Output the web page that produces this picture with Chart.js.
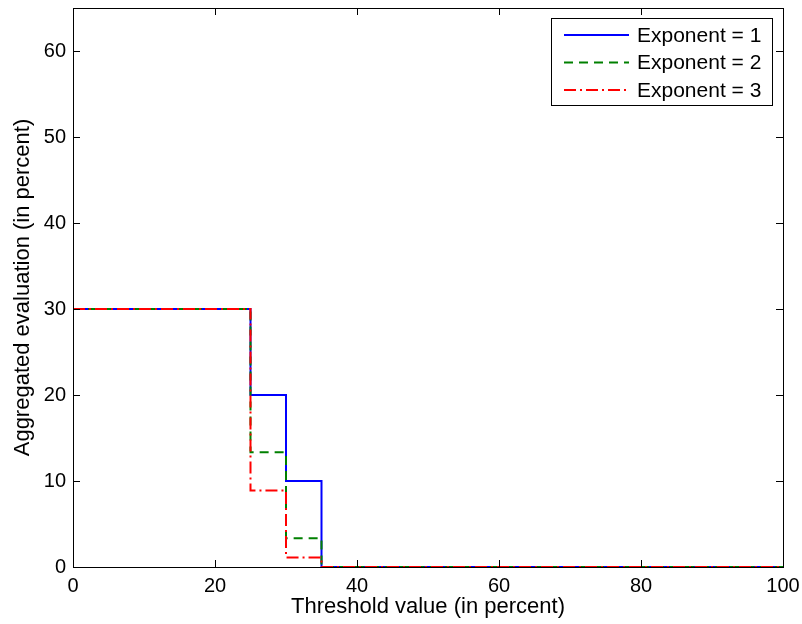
<!DOCTYPE html>
<html>
<head>
<meta charset="utf-8">
<script src="https://cdn.jsdelivr.net/npm/chart.js@4/dist/chart.umd.min.js"></script>
<style>
  html, body { margin: 0; padding: 0; background: #fff; }
  #wrap { width: 802px; height: 624px; }
</style>
</head>
<body>
<div id="wrap"><canvas id="myChart" width="802" height="624"></canvas></div>
<script>
// step function data: value holds from this threshold up to the next one
let thresholds = [0, 25, 30, 35, 100];
let exp1 = [30, 20, 10, 0, 0];
let exp2 = [30, 13.33, 3.33, 0, 0];
let exp3 = [30, 8.89, 1.11, 0, 0];
let seriesNames = ['Exponent = 1', 'Exponent = 2', 'Exponent = 3'];
let xTicks = [0, 20, 40, 60, 80, 100];
let yTicks = [0, 10, 20, 30, 40, 50, 60];

const FONT = '"Liberation Sans", Arial, Helvetica, sans-serif';

function pts(ys) {
  return thresholds.map((x, i) => ({ x: x, y: ys[i] }));
}

// box round the plot, inward ticks on all four sides, and a boxed legend
const matlabBox = {
  id: 'matlabBox',
  afterDatasetsDraw(chart) {
    const ctx = chart.ctx;
    const a = chart.chartArea;
    const xs = chart.scales.x, ys = chart.scales.y;
    ctx.save();
    ctx.strokeStyle = '#000';
    ctx.lineWidth = 1;
    ctx.setLineDash([]);
    ctx.strokeRect(Math.round(a.left) + 0.5, Math.round(a.top) + 0.5,
      Math.round(a.right - a.left), Math.round(a.bottom - a.top));
    const L = 7;
    ctx.beginPath();
    xTicks.forEach(v => {
      const px = Math.round(xs.getPixelForValue(v)) + 0.5;
      ctx.moveTo(px, a.bottom); ctx.lineTo(px, a.bottom - L);
      ctx.moveTo(px, a.top); ctx.lineTo(px, a.top + L);
    });
    yTicks.forEach(v => {
      const py = Math.round(ys.getPixelForValue(v)) + 0.5;
      ctx.moveTo(a.left, py); ctx.lineTo(a.left + L, py);
      ctx.moveTo(a.right, py); ctx.lineTo(a.right - L, py);
    });
    ctx.stroke();

    // legend
    const bx = 551, by = 18, bw = 221, bh = 87;
    ctx.fillStyle = '#fff';
    ctx.fillRect(bx, by, bw, bh);
    ctx.strokeRect(bx + 0.5, by + 0.5, bw, bh);
    ctx.font = '21px ' + FONT;
    ctx.textBaseline = 'middle';
    chart.data.datasets.forEach((ds, i) => {
      const y = by + 17 + i * 27.5;
      ctx.beginPath();
      ctx.strokeStyle = ds.borderColor;
      ctx.lineWidth = 2;
      ctx.setLineDash(ds.borderDash || []);
      ctx.moveTo(564, y); ctx.lineTo(629, y);
      ctx.stroke();
      ctx.setLineDash([]);
      ctx.fillStyle = '#000';
      ctx.fillText(ds.label, 637, y + 1);
    });
    ctx.restore();
  }
};

let myChart1 = document.getElementById('myChart').getContext('2d');

let Chart1 = new Chart(myChart1, {
  type: 'line',
  data: {
    datasets: [
      { label: seriesNames[0], data: pts(exp1), borderColor: '#0000ff', borderWidth: 2, stepped: 'before', order: 3 },
      { label: seriesNames[1], data: pts(exp2), borderColor: '#008000', borderWidth: 2, borderDash: [9, 6], stepped: 'before', order: 2 },
      { label: seriesNames[2], data: pts(exp3), borderColor: '#ff0000', borderWidth: 2, borderDash: [12, 4, 2, 4], stepped: 'before', order: 1 }
    ]
  },
  options: {
    responsive: false,
    animation: false,
    layout: { padding: { left: 0, right: 19, top: 8, bottom: 0 } },
    elements: { point: { radius: 0 }, line: { tension: 0, fill: false } },
    plugins: { legend: { display: false }, tooltip: { enabled: false } },
    scales: {
      x: {
        type: 'linear', min: 0, max: 100,
        afterBuildTicks: s => { s.ticks = xTicks.map(v => ({ value: v })); },
        afterFit: s => { s.height = 57; s.paddingLeft = 0; s.paddingRight = 0; },
        grid: { display: false, drawTicks: false },
        border: { display: false },
        ticks: { color: '#000', font: { size: 20, family: FONT }, padding: 7, maxRotation: 0 },
        title: { display: true, text: 'Threshold value (in percent)', color: '#000', font: { size: 22, family: FONT }, padding: { top: 0, bottom: 4 } }
      },
      y: {
        type: 'linear', min: 0, max: 65,
        afterBuildTicks: s => { s.ticks = yTicks.map(v => ({ value: v })); },
        afterFit: s => { s.width = 73; s.paddingTop = 0; s.paddingBottom = 0; },
        grid: { display: false, drawTicks: false },
        border: { display: false },
        ticks: { color: '#000', font: { size: 20, family: FONT }, padding: 7 },
        title: { display: true, text: 'Aggregated evaluation (in percent)', color: '#000', font: { size: 22, family: FONT }, padding: { top: 10, bottom: 0 } }
      }
    }
  },
  plugins: [matlabBox]
});
</script>
</body>
</html>
